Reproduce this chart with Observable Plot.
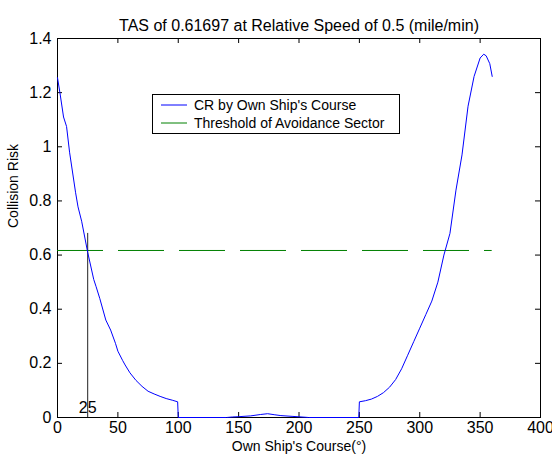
<!DOCTYPE html>
<html>
<head>
<meta charset="utf-8">
<script src="https://cdn.jsdelivr.net/npm/d3@7"></script>
<script src="https://cdn.jsdelivr.net/npm/@observablehq/plot@0.6"></script>
<style>
  html, body { margin: 0; padding: 0; background: white; }
  #wrap { position: relative; width: 552px; height: 459px; font-family: "Liberation Sans", Arial, sans-serif; }
  #legend { position: absolute; left: 152px; top: 94px; width: 246px; height: 38px; border: 1px solid black; background: white; font-size: 14px; }
  .row { position: absolute; left: 0; height: 18px; display: flex; align-items: center; }
  .row svg { margin-left: 8px; margin-right: 7px; }
</style>
</head>
<body>
<div id="wrap"></div>
<script>
const title = "TAS of 0.61697 at Relative Speed of 0.5 (mile/min)";
const xLabel = "Own Ship's Course(°)";
const yLabel = "Collision Risk";
const legendLabels = ["CR by Own Ship's Course", "Threshold of Avoidance Sector"];
const xTicks = [0, 50, 100, 150, 200, 250, 300, 350, 400];
const yTicks = [0, 0.2, 0.4, 0.6, 0.8, 1, 1.2, 1.4];
const threshold = 0.61697;
const thresholdRange = [0, 360];
const markCourse = 25;
const markTop = 0.68;

const courseDeg = [0, 2, 5, 7.5, 10, 15, 17, 20, 25, 30, 32, 35, 40, 44, 48, 50, 54, 56, 60, 65, 70, 75, 80, 85, 90, 95, 99.5,
  100, 140, 145, 150, 160, 168, 174, 180, 185, 195, 205, 208, 249.5,
  250, 255, 260, 265, 270, 275, 280, 285, 290, 295, 300, 305, 310, 315, 320, 325, 330, 335, 340, 345, 350, 353, 355, 358, 360];
const collisionRisk = [1.255, 1.2, 1.11, 1.075, 0.98, 0.83, 0.778, 0.725, 0.61, 0.51, 0.483, 0.44, 0.36, 0.323, 0.274, 0.245, 0.21, 0.194, 0.165, 0.137, 0.115, 0.097, 0.087, 0.078, 0.07, 0.064, 0.058,
  0, 0, 0.002, 0.003, 0.006, 0.011, 0.014, 0.01, 0.007, 0.004, 0.001, 0, 0,
  0.058, 0.062, 0.068, 0.078, 0.092, 0.112, 0.14, 0.18, 0.23, 0.28, 0.33, 0.38, 0.43, 0.5, 0.6, 0.68, 0.84, 0.97, 1.15, 1.26, 1.328, 1.342, 1.336, 1.307, 1.26];

const W = 552, H = 459, mL = 57, mR = 12, mT = 38, mB = 42;
const fw = W - mL - mR, fh = H - mT - mB, tick = 5;
const fmt = d => String(+d.toFixed(1));

const chart = Plot.plot({
  width: W, height: H,
  marginLeft: mL, marginRight: mR, marginTop: mT, marginBottom: mB,
  style: { fontFamily: "'Liberation Sans', Arial, sans-serif", fontSize: "14px", background: "white", color: "black" },
  x: { domain: [0, 400] },
  y: { domain: [0, 1.4] },
  marks: [
    Plot.frame({ stroke: "black" }),
    Plot.tickX(xTicks, { x: d => d, insetTop: fh - tick, stroke: "black" }),
    Plot.tickX(xTicks, { x: d => d, insetBottom: fh - tick, stroke: "black" }),
    Plot.tickY(yTicks, { y: d => d, insetRight: fw - tick, stroke: "black" }),
    Plot.tickY(yTicks, { y: d => d, insetLeft: fw - tick, stroke: "black" }),
    Plot.axisX({ ticks: xTicks, tickSize: 0, tickPadding: 4, label: null, fontSize: 16 }),
    Plot.axisY({ ticks: yTicks, tickSize: 0, tickPadding: 6, label: null, tickFormat: fmt, fontSize: 16 }),
    Plot.ruleY([threshold], { x1: thresholdRange[0], x2: thresholdRange[1], stroke: "#008000", strokeDasharray: "46,15" }),
    Plot.ruleX([markCourse], { y1: 0, y2: markTop, stroke: "#222" }),
    Plot.text([markCourse], { x: d => d, y: 0, text: d => String(d), dy: -10, fontSize: 16, fill: "black" }),
    Plot.line(courseDeg, { x: courseDeg, y: collisionRisk, stroke: "#0000ff", strokeWidth: 1 }),
    Plot.text([title], { frameAnchor: "top", text: d => d, dy: -19, fontSize: 16, fill: "black" }),
    Plot.text([xLabel], { frameAnchor: "bottom", text: d => d, dy: 33, fontSize: 14, fill: "black" }),
    Plot.text([yLabel], { frameAnchor: "left", text: d => d, dx: -44, rotate: -90, fontSize: 14, fill: "black" })
  ]
});

const wrap = document.getElementById("wrap");
wrap.appendChild(chart);
const leg = document.createElement("div");
leg.id = "legend";
const colors = ["#0000ff", "#008000"];
legendLabels.forEach((lab, i) => {
  const r = document.createElement("div");
  r.className = "row";
  r.style.top = (1 + i * 18) + "px";
  r.innerHTML = `<svg width="26" height="4"><line x1="0" x2="26" y1="2" y2="2" stroke="${colors[i]}" stroke-width="1"/></svg><span>${lab}</span>`;
  leg.appendChild(r);
});
wrap.appendChild(leg);
</script>
</body>
</html>
